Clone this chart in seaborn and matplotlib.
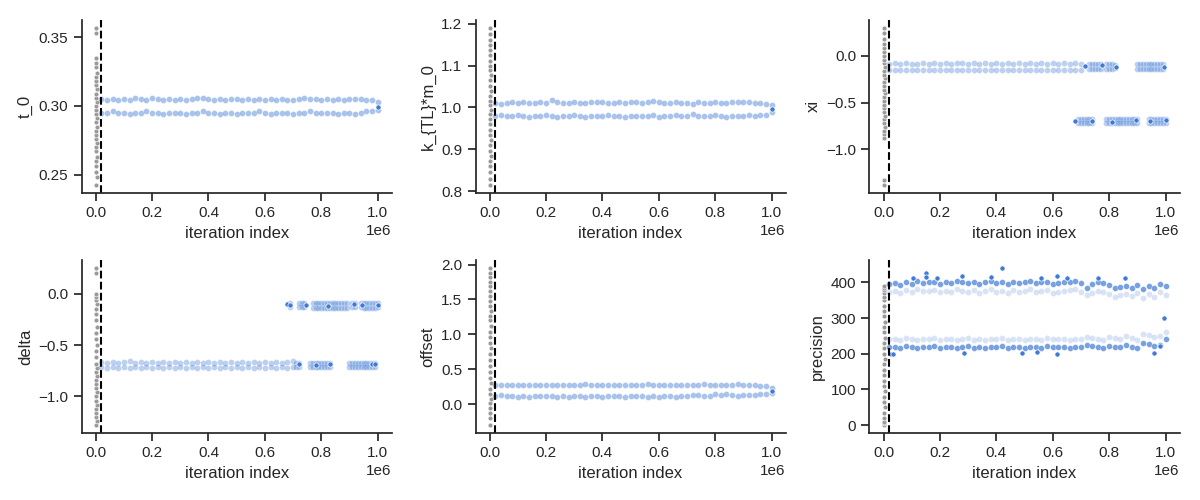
import numpy as np
import pandas as pd
import seaborn as sns
import matplotlib.pyplot as plt

# MCMC trace plots, burn-in shown in gray

BURN_END = 20000
BLUE = "#3f7ad6"
GRAY = "#9a9a9a"

# burn-in iterations (shared by all panels)
BURN_X = [0, 3000, 500, 2500, 1000, 4000, 0, 1500, 3500, 500, 2000, 0, 3000, 1000,
          4500, 0, 2500, 500, 3500, 1500, 0, 4000, 1000, 2000, 500, 3000, 0, 1500,
          2500, 0, 1000]

# sampled iterations after burn-in, in thousands
X_K = [20, 40, 60, 80, 100, 120, 140, 160, 180, 200, 220, 240, 260, 280, 300, 320, 340,
       360, 380, 400, 420, 440, 460, 480, 500, 520, 540, 560, 580, 600, 620, 640, 660,
       680, 700, 720, 740, 760, 780, 800, 820, 840, 860, 880, 900, 920, 940, 960, 980, 1000]
X_K_EARLY = X_K[:35]

# ---- t_0
t0_burn = [0.2425, 0.248, 0.252, 0.256, 0.260, 0.263, 0.267, 0.270, 0.273, 0.276, 0.279,
           0.282, 0.285, 0.288, 0.291, 0.294, 0.297, 0.300, 0.303, 0.306, 0.309, 0.312,
           0.315, 0.318, 0.321, 0.324, 0.328, 0.331, 0.335, 0.353, 0.3568]
t0_hi = [0.305, 0.304, 0.305, 0.304, 0.305, 0.304, 0.306, 0.305, 0.304, 0.306,
         0.305, 0.304, 0.305, 0.304, 0.305, 0.304, 0.305, 0.306, 0.306, 0.305,
         0.304, 0.305, 0.304, 0.305, 0.305, 0.304, 0.305, 0.304, 0.305, 0.304,
         0.305, 0.304, 0.305, 0.304, 0.304, 0.305, 0.306, 0.305, 0.305, 0.304,
         0.305, 0.304, 0.305, 0.304, 0.305, 0.305, 0.305, 0.304, 0.304, 0.303]
t0_lo = [0.295, 0.295, 0.296, 0.295, 0.295, 0.294, 0.295, 0.295, 0.296, 0.295,
         0.295, 0.294, 0.295, 0.295, 0.295, 0.294, 0.295, 0.295, 0.296, 0.295,
         0.295, 0.294, 0.295, 0.295, 0.294, 0.295, 0.295, 0.295, 0.296, 0.295,
         0.294, 0.295, 0.295, 0.295, 0.294, 0.295, 0.295, 0.296, 0.295, 0.295,
         0.295, 0.295, 0.294, 0.295, 0.295, 0.294, 0.295, 0.296, 0.296, 0.297]
t0_pts_x = [1000]
t0_pts_y = [0.299]

# ---- k_{TL}*m_0
k_burn = [0.815, 0.830, 0.845, 0.860, 0.872, 0.885, 0.897, 0.910, 0.922, 0.935, 0.947,
          0.960, 0.972, 0.985, 0.995, 1.005, 1.015, 1.028, 1.040, 1.052, 1.065, 1.078,
          1.090, 1.100, 1.112, 1.125, 1.137, 1.150, 1.162, 1.175, 1.190]
k_hi = [1.010, 1.009, 1.011, 1.012, 1.010, 1.013, 1.011, 1.010, 1.012, 1.011,
        1.017, 1.012, 1.011, 1.010, 1.012, 1.011, 1.010, 1.012, 1.013, 1.014,
        1.011, 1.010, 1.012, 1.011, 1.012, 1.013, 1.011, 1.012, 1.016, 1.012,
        1.011, 1.010, 1.012, 1.011, 1.010, 1.008, 1.012, 1.011, 1.010, 1.012,
        1.011, 1.010, 1.012, 1.013, 1.014, 1.012, 1.011, 1.010, 1.009, 1.006]
k_lo = [0.980, 0.981, 0.979, 0.980, 0.981, 0.979, 0.978, 0.980, 0.979, 0.981,
        0.980, 0.978, 0.979, 0.980, 0.981, 0.979, 0.978, 0.980, 0.979, 0.980,
        0.981, 0.979, 0.980, 0.978, 0.979, 0.980, 0.979, 0.980, 0.981, 0.978,
        0.979, 0.980, 0.981, 0.979, 0.980, 0.985, 0.980, 0.979, 0.980, 0.981,
        0.979, 0.977, 0.980, 0.979, 0.980, 0.981, 0.980, 0.982, 0.983, 0.988]
k_pts_x = [1000]
k_pts_y = [0.997]

# ---- xi
xi_burn = [-1.38, -1.33, -0.88, -0.84, -0.80, -0.76, -0.72, -0.68, -0.64, -0.60, -0.56,
           -0.52, -0.48, -0.44, -0.40, -0.36, -0.32, -0.28, -0.24, -0.20, -0.16, -0.12,
           -0.08, -0.04, 0.00, 0.04, 0.08, 0.13, 0.18, 0.24, 0.30]
xi_hi = [-0.085, -0.080, -0.085, -0.080, -0.085, -0.085, -0.080, -0.085, -0.075, -0.085,
         -0.080, -0.085, -0.080, -0.075, -0.085, -0.080, -0.085, -0.080, -0.085, -0.080,
         -0.085, -0.080, -0.085, -0.080, -0.085, -0.080, -0.085, -0.075, -0.085, -0.080,
         -0.085, -0.080, -0.085, -0.080, -0.085]
xi_lo = [-0.155, -0.150, -0.155, -0.150, -0.155, -0.150, -0.155, -0.155, -0.150, -0.155,
         -0.150, -0.155, -0.150, -0.155, -0.150, -0.155, -0.155, -0.150, -0.155, -0.150,
         -0.155, -0.150, -0.155, -0.150, -0.155, -0.150, -0.155, -0.150, -0.155, -0.150,
         -0.155, -0.150, -0.155, -0.150, -0.150]
xi_up_x = [730, 740, 750, 760, 770, 790, 800, 810, 820, 900, 910, 920, 930, 940, 950,
           960, 970, 980, 990]
xi_up_hi = [-0.09, -0.09, -0.09, -0.09, -0.09, -0.09, -0.09, -0.09, -0.10, -0.09, -0.09,
            -0.09, -0.09, -0.09, -0.09, -0.09, -0.09, -0.09, -0.09]
xi_up_lo = [-0.14, -0.14, -0.14, -0.14, -0.14, -0.14, -0.14, -0.14, -0.13, -0.14, -0.14,
            -0.14, -0.14, -0.14, -0.14, -0.14, -0.14, -0.14, -0.14]
xi_dn_x = [690, 700, 710, 720, 730, 740, 790, 800, 810, 820, 830, 840, 850, 860, 870,
           880, 890, 900, 940, 950, 960, 970, 980, 990, 1000]
xi_dn_hi = [-0.68, -0.68, -0.68, -0.68, -0.68, -0.68, -0.68, -0.68, -0.68, -0.68, -0.68,
            -0.68, -0.68, -0.68, -0.68, -0.68, -0.68, -0.68, -0.68, -0.68, -0.68, -0.68,
            -0.68, -0.68, -0.68]
xi_dn_lo = [-0.72, -0.72, -0.72, -0.72, -0.72, -0.72, -0.72, -0.72, -0.72, -0.72, -0.72,
            -0.72, -0.72, -0.72, -0.72, -0.72, -0.72, -0.72, -0.72, -0.72, -0.72, -0.72,
            -0.72, -0.72, -0.72]
xi_pts_x = [715, 775, 825, 995, 680, 740, 810, 895, 945, 1000]
xi_pts_y = [-0.11, -0.10, -0.12, -0.12, -0.70, -0.70, -0.71, -0.69, -0.70, -0.69]

# ---- delta
delta_burn = [-1.28, -1.24, -1.20, -1.16, -1.12, -1.08, -1.04, -1.00, -0.96, -0.92, -0.88,
              -0.84, -0.80, -0.76, -0.72, -0.68, -0.62, -0.56, -0.50, -0.44, -0.38, -0.32,
              -0.26, -0.20, -0.15, -0.10, -0.06, -0.03, 0.00, 0.20, 0.25]
delta_hi = [-0.665, -0.670, -0.665, -0.670, -0.665, -0.655, -0.670, -0.665, -0.670, -0.665,
            -0.670, -0.665, -0.670, -0.665, -0.670, -0.665, -0.670, -0.665, -0.670, -0.665,
            -0.670, -0.665, -0.670, -0.665, -0.670, -0.665, -0.670, -0.665, -0.670, -0.665,
            -0.670, -0.665, -0.670, -0.665, -0.660]
delta_lo = [-0.715, -0.720, -0.715, -0.720, -0.715, -0.720, -0.715, -0.720, -0.715, -0.720,
            -0.715, -0.720, -0.715, -0.720, -0.715, -0.720, -0.715, -0.720, -0.715, -0.720,
            -0.715, -0.720, -0.715, -0.720, -0.715, -0.720, -0.715, -0.720, -0.715, -0.720,
            -0.715, -0.720, -0.715, -0.720, -0.715]
delta_up_x = [690, 720, 730, 740, 770, 780, 790, 800, 810, 820, 830, 840, 850, 860, 870,
              880, 890, 910, 920, 940, 950, 960, 970, 980, 990, 1000]
delta_up_hi = [-0.09, -0.09, -0.09, -0.09, -0.09, -0.09, -0.09, -0.09, -0.09, -0.09, -0.09,
               -0.09, -0.09, -0.09, -0.09, -0.09, -0.09, -0.09, -0.09, -0.09, -0.09, -0.09,
               -0.09, -0.09, -0.09, -0.09]
delta_up_lo = [-0.13, -0.13, -0.13, -0.13, -0.14, -0.14, -0.14, -0.14, -0.14, -0.14, -0.14,
               -0.14, -0.14, -0.14, -0.14, -0.14, -0.14, -0.13, -0.13, -0.13, -0.14, -0.14,
               -0.14, -0.14, -0.14, -0.13]
delta_dn_x = [710, 720, 760, 770, 780, 790, 800, 810, 820, 830, 900, 910, 920, 930, 940,
              950, 960, 970, 980, 990]
delta_dn_hi = [-0.67, -0.67, -0.67, -0.67, -0.67, -0.67, -0.67, -0.67, -0.67, -0.67, -0.67,
               -0.67, -0.67, -0.67, -0.67, -0.67, -0.67, -0.67, -0.67, -0.67]
delta_dn_lo = [-0.71, -0.71, -0.71, -0.71, -0.71, -0.71, -0.71, -0.71, -0.71, -0.71, -0.71,
               -0.71, -0.71, -0.71, -0.71, -0.71, -0.71, -0.71, -0.71, -0.71]
delta_pts_x = [680, 690, 745, 825, 915, 945, 1000, 720, 780, 830, 980, 990]
delta_pts_y = [-0.10, -0.11, -0.11, -0.12, -0.10, -0.11, -0.11, -0.68, -0.69, -0.68, -0.68, -0.68]

# ---- offset
offset_burn = [-0.30, -0.20, -0.12, -0.05, 0.02, 0.08, 0.15, 0.22, 0.30, 0.38, 0.46, 0.55,
               0.64, 0.72, 0.80, 0.88, 0.96, 1.04, 1.12, 1.20, 1.27, 1.34, 1.41, 1.48, 1.55,
               1.62, 1.69, 1.75, 1.82, 1.88, 1.95]
offset_hi = [0.27, 0.27, 0.28, 0.27, 0.27, 0.28, 0.27, 0.28, 0.28, 0.27,
             0.28, 0.28, 0.28, 0.27, 0.28, 0.28, 0.29, 0.28, 0.28, 0.27,
             0.28, 0.28, 0.27, 0.28, 0.28, 0.28, 0.28, 0.29, 0.28, 0.28,
             0.28, 0.27, 0.28, 0.28, 0.27, 0.27, 0.28, 0.29, 0.28, 0.28,
             0.27, 0.28, 0.28, 0.29, 0.28, 0.27, 0.27, 0.26, 0.26, 0.23]
offset_lo = [0.12, 0.13, 0.12, 0.12, 0.11, 0.12, 0.11, 0.12, 0.12, 0.12,
             0.12, 0.11, 0.12, 0.11, 0.12, 0.12, 0.11, 0.12, 0.12, 0.11,
             0.12, 0.12, 0.12, 0.11, 0.12, 0.12, 0.12, 0.11, 0.12, 0.11,
             0.12, 0.12, 0.11, 0.12, 0.12, 0.13, 0.13, 0.12, 0.12, 0.14,
             0.13, 0.14, 0.13, 0.12, 0.13, 0.13, 0.13, 0.14, 0.15, 0.16]
offset_pts_x = [1000]
offset_pts_y = [0.19]

# ---- precision
prec_burn = [0, 5, 10, 20, 35, 50, 65, 80, 95, 110, 125, 140, 155, 170, 185, 200, 215,
             230, 245, 260, 275, 290, 305, 320, 335, 350, 360, 370, 378, 385, 390]
prec_hi = [395, 398, 392, 400, 395, 405, 398, 400, 402, 395,
           400, 398, 405, 400, 398, 402, 395, 400, 405, 398,
           400, 395, 402, 398, 400, 405, 398, 400, 402, 395,
           398, 400, 402, 405, 398, 385, 395, 400, 398, 392,
           385, 388, 390, 385, 392, 380, 390, 385, 395, 390]
prec_lo = [220, 218, 215, 222, 218, 215, 220, 218, 222, 215,
           218, 220, 215, 218, 222, 216, 218, 215, 220, 218,
           222, 215, 218, 220, 216, 218, 220, 215, 222, 218,
           220, 218, 215, 220, 218, 225, 222, 218, 215, 222,
           220, 218, 225, 220, 215, 230, 228, 222, 225, 240]
prec_in_hi = [372, 375, 370, 378, 372, 380, 375, 376, 378, 372,
              376, 374, 380, 376, 372, 378, 370, 376, 380, 374,
              376, 370, 378, 374, 376, 380, 372, 376, 378, 370,
              374, 376, 378, 380, 372, 365, 370, 376, 372, 366,
              360, 365, 368, 362, 370, 355, 366, 360, 372, 365]
prec_in_lo = [242, 240, 238, 244, 240, 238, 242, 240, 244, 238,
              240, 242, 238, 240, 244, 238, 240, 238, 242, 240,
              244, 238, 240, 242, 238, 240, 242, 238, 244, 240,
              242, 240, 238, 242, 240, 248, 245, 240, 238, 246,
              244, 240, 250, 244, 238, 255, 252, 246, 250, 262]
prec_pts_x = [105, 150, 152, 190, 280, 420, 380, 560, 615, 650, 760, 855, 25, 35, 285,
              490, 545, 615, 960, 980, 995]
prec_pts_y = [412, 425, 415, 412, 417, 440, 415, 413, 418, 413, 412, 413, 198, 198, 203,
              202, 205, 200, 202, 222, 300]


def band(xk, hi, lo):
    x = np.array(list(xk) + list(xk)) * 1000
    y = np.array(list(hi) + list(lo))
    return pd.DataFrame({"iteration": x, "value": y})


# (label, burn-in values, [(band, alpha), ...], highlighted points)
panels = [
    ("t_0", t0_burn, [(band(X_K, t0_hi, t0_lo), 0.45)], (t0_pts_x, t0_pts_y)),
    ("k_{TL}*m_0", k_burn, [(band(X_K, k_hi, k_lo), 0.45)], (k_pts_x, k_pts_y)),
    ("xi", xi_burn, [(band(X_K_EARLY, xi_hi, xi_lo), 0.35),
                     (band(xi_up_x, xi_up_hi, xi_up_lo), 0.35),
                     (band(xi_dn_x, xi_dn_hi, xi_dn_lo), 0.35)], (xi_pts_x, xi_pts_y)),
    ("delta", delta_burn, [(band(X_K_EARLY, delta_hi, delta_lo), 0.35),
                           (band(delta_up_x, delta_up_hi, delta_up_lo), 0.35),
                           (band(delta_dn_x, delta_dn_hi, delta_dn_lo), 0.35)],
     (delta_pts_x, delta_pts_y)),
    ("offset", offset_burn, [(band(X_K, offset_hi, offset_lo), 0.45)], (offset_pts_x, offset_pts_y)),
    ("precision", prec_burn, [(band(X_K, prec_in_hi, prec_in_lo), 0.2),
                              (band(X_K, prec_hi, prec_lo), 0.7)], (prec_pts_x, prec_pts_y)),
]

sns.set_theme(style="ticks")
plt.rcParams["font.family"] = ["Liberation Sans", "DejaVu Sans"]

fig, axes = plt.subplots(2, 3, figsize=(12, 5), dpi=100)

for ax, (name, burn, bands, pts) in zip(axes.flat, panels):
    sns.scatterplot(x=BURN_X, y=burn, color=GRAY, s=12, edgecolor="white",
                    linewidth=0.4, ax=ax)
    for df, a in bands:
        sns.scatterplot(data=df, x="iteration", y="value", color=BLUE, s=18,
                        edgecolor="white", linewidth=0.3, alpha=a, ax=ax)
    sns.scatterplot(x=np.array(pts[0]) * 1000, y=pts[1], color=BLUE, s=14,
                    edgecolor="white", linewidth=0.5, ax=ax)
    ax.axvline(BURN_END, color="black", linestyle="--", linewidth=1.5)
    ax.set_xlabel("iteration index")
    ax.set_ylabel(name)
    ax.set_xlim(-50000, 1050000)

sns.despine()
fig.subplots_adjust(left=0.068, right=0.983, top=0.96, bottom=0.134, wspace=0.27, hspace=0.39)
fig.savefig("out.png", dpi=100)
